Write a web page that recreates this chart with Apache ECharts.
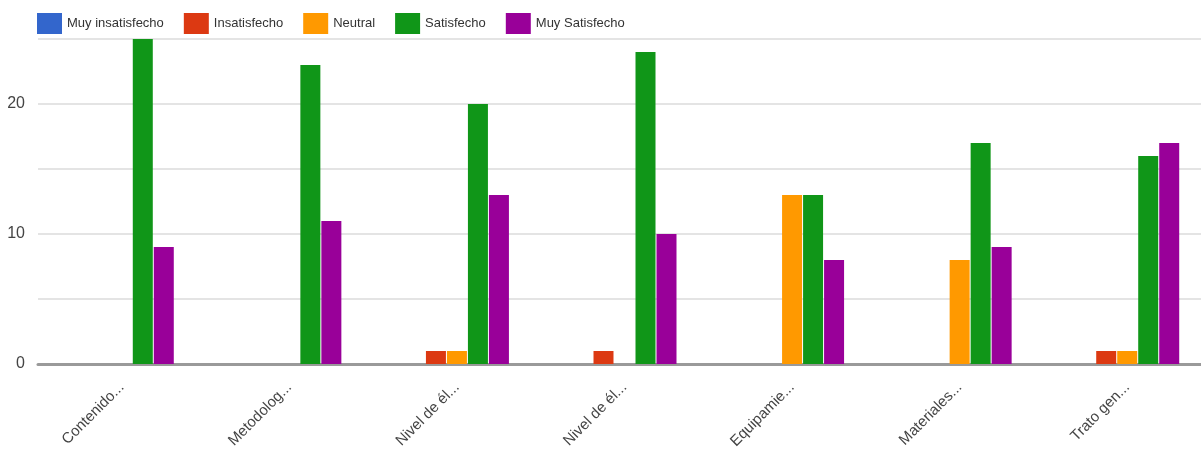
<!DOCTYPE html>
<html>
<head>
<meta charset="utf-8">
<script src="https://cdn.jsdelivr.net/npm/echarts@6/dist/echarts.min.js"></script>
<style>
  html, body { margin: 0; padding: 0; background: #fff; overflow: hidden; }
  /* plot area runs slightly past the right edge of the window */
  #chart { width: 1211px; height: 452px; }
</style>
</head>
<body>
<div id="chart"></div>
<script>
// Survey results: number of answers per satisfaction level for each aspect
const categories = ['Contenido...', 'Metodolog...', 'Nivel de él...', 'Nivel de él...', 'Equipamie...', 'Materiales...', 'Trato gen...'];
const seriesNames = ['Muy insatisfecho', 'Insatisfecho', 'Neutral', 'Satisfecho', 'Muy Satisfecho'];
const muyInsatisfecho = [0, 0, 0, 0, 0, 0, 0];
const insatisfecho    = [0, 0, 1, 1, 0, 0, 1];
const neutral         = [0, 0, 1, 0, 13, 8, 1];
const satisfecho      = [25, 23, 20, 24, 13, 17, 16];
const muySatisfecho   = [9, 11, 13, 10, 8, 9, 17];
const yTicks = [0, 10, 20];

const colors = ['#3366cc', '#dc3912', '#ff9900', '#109618', '#990099'];
const values = [muyInsatisfecho, insatisfecho, neutral, satisfecho, muySatisfecho];
const font = '"Liberation Sans", Arial, sans-serif';

const chart = echarts.init(document.getElementById('chart'), null, { renderer: 'canvas' });
chart.setOption({
  animation: false,
  color: colors,
  textStyle: { fontFamily: font },
  legend: {
    left: 32,
    top: 8,
    itemWidth: 25,
    itemHeight: 21,
    itemGap: 20,
    icon: 'rect',
    textStyle: { fontFamily: font, fontSize: 13, color: '#333' },
    data: seriesNames
  },
  grid: { left: 38, top: 39, right: 0, height: 325, containLabel: false },
  xAxis: {
    type: 'category',
    data: categories,
    axisTick: { show: false },
    axisLine: { lineStyle: { color: '#9a9a9a', width: 3 } },
    axisLabel: {
      interval: 0,
      rotate: 45,
      margin: 21,
      fontFamily: font,
      fontSize: 15,
      color: '#444'
    }
  },
  yAxis: {
    type: 'value',
    min: 0,
    max: 25,
    interval: 5,
    axisLine: { show: false },
    axisTick: { show: false },
    axisLabel: {
      margin: 13,
      fontFamily: font,
      fontSize: 16,
      color: '#444',
      formatter: v => (yTicks.indexOf(v) >= 0 ? String(v) : '')
    },
    splitLine: { lineStyle: { color: '#e4e4e4', width: 2 } }
  },
  series: seriesNames.map((name, i) => ({
    name,
    type: 'bar',
    data: values[i],
    barWidth: 20,
    barGap: '5%'
  }))
});
</script>
</body>
</html>
